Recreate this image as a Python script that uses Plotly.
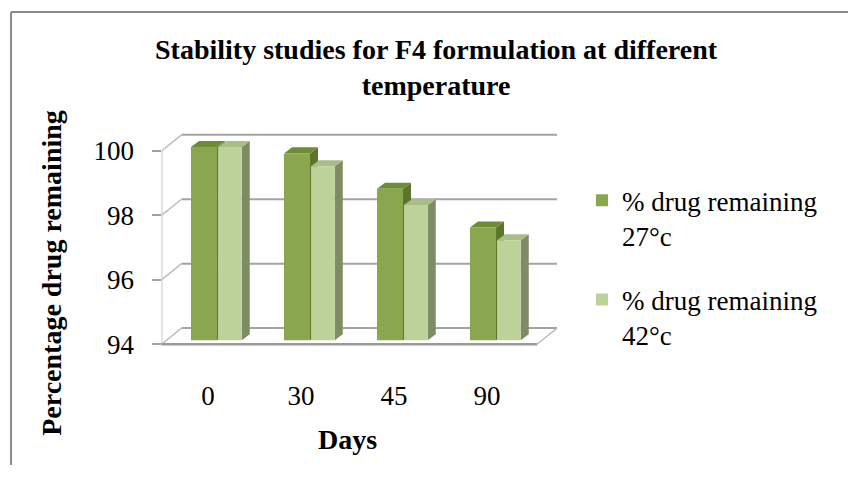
import plotly.graph_objects as go

# ---- data ----
days = ["0", "30", "45", "90"]
series_names = ["% drug remaining<br>27°c", "% drug remaining<br>42°c"]
drug_27 = [100.0, 99.8, 98.7, 97.5]
drug_42 = [100.0, 99.4, 98.2, 97.1]
y_ticks = [94, 96, 98, 100]

title_text = "<b>Stability studies for F4 formulation at different<br>temperature</b>"
y_title = "<b>Percentage drug remaining</b>"
x_title = "<b>Days</b>"

# ---- style ----
W, H = 848, 477
HE = 462  # effective rendered height used for paper-fraction placement
FONT = "Liberation Serif, Times New Roman, serif"
front_cols = ["#8AA64E", "#BDD29A"]
top_cols = ["#6E8C38", "#A8BE86"]
side_cols = ["#5B7628", "#7E8C65"]
offsets = [-0.183, 0.108]
widths = [0.28, 0.255]

Y0, Y1 = 93.9, 100.6
X0, X1 = -0.5, 3.77
PL, PR = 161.5, 161.5 + (X1 - X0) * 93
PT = 342 - (Y1 - 94) * 32
PB = 342 - (Y0 - 94) * 32

UX = (PR - PL) / (X1 - X0)
UY = (PB - PT) / (Y1 - Y0)
DXW, DYW = 20 / UX, 16 / UY
SX, SY = 8 / UX, 6 / UY
BASE_SHIFT = 4 / UY
Y_MIN = y_ticks[0]


def fx(p):
    return p / W


def fy(p):
    return 1 - p / HE


xs = list(range(len(days)))
fig = go.Figure()
for k, vals in enumerate([drug_27, drug_42]):
    fig.add_trace(go.Bar(
        x=xs, y=[v - Y_MIN for v in vals], base=Y_MIN + BASE_SHIFT,
        offset=offsets[k], width=widths[k],
        marker=dict(color=front_cols[k], line=dict(width=0)),
        name=series_names[k], legendgroup=str(k),
        hoverinfo="skip",
    ))

shapes = []
gl = dict(color="#A3A3A3", width=2)
front_right = X0 + (537 - PL) / UX
for t in y_ticks:
    shapes.append(dict(type="line", xref="x", yref="y", layer="below",
                       x0=X0 + DXW, x1=front_right + DXW, y0=t + DYW, y1=t + DYW, line=gl))
    shapes.append(dict(type="line", xref="x", yref="y", layer="below",
                       x0=X0, x1=X0 + DXW, y0=t, y1=t + DYW,
                       line=dict(color="#BDBDBD", width=1.5)))
shapes.append(dict(type="line", xref="x", yref="y", layer="below",
                   x0=X0, x1=X0, y0=y_ticks[0], y1=y_ticks[-1],
                   line=dict(color="#C8C8C8", width=2)))
shapes.append(dict(type="line", xref="x", yref="y", layer="above",
                   x0=X0 - 8 / UX, x1=front_right, y0=y_ticks[0], y1=y_ticks[0],
                   line=dict(color="#9A9A9A", width=2.5)))
shapes.append(dict(type="line", xref="x", yref="y", layer="below",
                   x0=front_right, x1=front_right + DXW, y0=y_ticks[0], y1=y_ticks[0] + DYW,
                   line=dict(color="#BDBDBD", width=1.5)))

for k, vals in enumerate([drug_27, drug_42]):
    for j, v in enumerate(vals):
        x0 = j + offsets[k]
        x1 = x0 + widths[k]
        b = Y_MIN + BASE_SHIFT
        top = v + BASE_SHIFT
        shapes.append(dict(type="path", xref="x", yref="y", layer="below",
                           path=f"M{x1},{b} L{x1},{top} L{x1+SX},{top+SY} L{x1+SX},{b+SY} Z",
                           fillcolor=side_cols[k], line=dict(width=0)))
        shapes.append(dict(type="path", xref="x", yref="y", layer="below",
                           path=f"M{x0},{top} L{x1},{top} L{x1+SX},{top+SY} L{x0+SX},{top+SY} Z",
                           fillcolor=top_cols[k], line=dict(width=0)))

bc = dict(color="#8C8C8C", width=2)
shapes.append(dict(type="line", xref="paper", yref="paper", x0=fx(11), x1=1.0,
                   y0=fy(12), y1=fy(12), line=bc))
shapes.append(dict(type="line", xref="paper", yref="paper", x0=fx(11), x1=fx(11),
                   y0=0, y1=fy(12), line=bc))

annotations = [
    dict(text=title_text, xref="paper", yref="paper", x=fx(436), y=fy(67),
         xanchor="center", yanchor="middle", showarrow=False,
         font=dict(family=FONT, size=28, color="black")),
    dict(text=y_title, xref="paper", yref="paper", x=fx(52), y=fy(271),
         xanchor="center", yanchor="middle", textangle=-90, showarrow=False,
         font=dict(family=FONT, size=28, color="black")),
    dict(text=x_title, xref="paper", yref="paper", x=fx(347), y=fy(437),
         xanchor="center", yanchor="middle", showarrow=False,
         font=dict(family=FONT, size=28, color="black")),
]

fig.update_layout(
    width=W, height=H,
    margin=dict(l=0, r=0, t=0, b=0),
    paper_bgcolor="white", plot_bgcolor="white",
    barmode="overlay",
    showlegend=True,
    legend=dict(x=fx(582), y=fy(175), xanchor="left", yanchor="top",
                font=dict(family=FONT, size=27, color="black"),
                valign="top", tracegroupgap=26, bgcolor="rgba(0,0,0,0)"),
    xaxis=dict(domain=[fx(PL), fx(PR)], range=[X0, X1],
               tickmode="array", tickvals=xs, ticktext=days,
               showgrid=False, zeroline=False, showline=False, ticks="",
               ticklabelstandoff=30,
               tickfont=dict(family=FONT, size=27, color="black")),
    yaxis=dict(domain=[fy(PB), fy(PT)], range=[Y0, Y1],
               tickmode="array", tickvals=y_ticks,
               showgrid=False, zeroline=False, showline=False,
               ticks="outside", ticklen=9, tickcolor="#A0A0A0", tickwidth=2,
               ticklabelstandoff=12,
               tickfont=dict(family=FONT, size=27, color="black")),
    shapes=shapes,
    annotations=annotations,
)

fig.write_html("out.html")
